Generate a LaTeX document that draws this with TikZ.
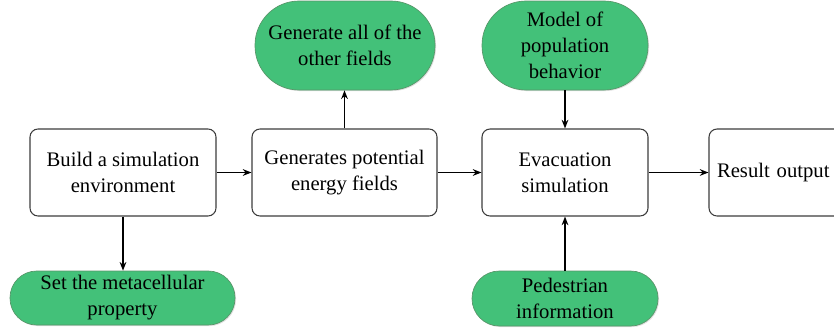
\documentclass[tikz,border=0pt]{standalone}
\usepackage{fontspec}
\setmainfont{Liberation Serif}
\usetikzlibrary{arrows.meta,shadows}
\definecolor{pillgreen}{RGB}{67,193,121}
\definecolor{pillborder}{RGB}{88,150,105}
\definecolor{boxborder}{RGB}{60,60,60}
\tikzset{
  box/.style={draw=boxborder, line width=0.8pt, rounded corners=6pt, fill=white,
    minimum height=65.25pt, align=center, inner sep=0pt,
    font=\fontsize{15.5pt}{19.5pt}\selectfont},
  pill/.style={draw=pillborder, line width=0.5pt, fill=pillgreen, align=center, inner sep=0pt,
    drop shadow={shadow xshift=0.8pt, shadow yshift=-0.8pt, opacity=0.25},
    font=\fontsize{15.5pt}{19.5pt}\selectfont},
  conn/.style={line width=1.1pt, -{Stealth[length=6.5pt,width=5pt]}}
}
\begin{document}
\begin{tikzpicture}[x=0.75pt,y=-0.75pt]
\useasboundingbox (0,0) rectangle (834,332);
\clip (0,0) rectangle (834,332);
\node[box, minimum width=139.5pt] (b1) at (123,172.5) {Build a simulation\\environment};
\node[box, minimum width=138.75pt] (b2) at (344.5,172.5) {Generates potential\\energy fields};
\node[box, minimum width=124.5pt] (b3) at (565,172.5) {Evacuation\\simulation};
\node[box, text width=117pt, align=left, inner xsep=6pt] (b4) at (795,172.5) {Result output};
\node[pill, minimum width=135pt, minimum height=66.75pt, rounded corners=33pt] (g1) at (345,45.5) {Generate all of the\\other fields};
\node[pill, minimum width=124.5pt, minimum height=66.75pt, rounded corners=33pt] (g2) at (565,45.5) {Model of\\population\\behavior};
\node[pill, minimum width=168.75pt, minimum height=40.5pt, rounded corners=20pt] (g3) at (122.5,298) {Set the metacellular\\property};
\node[pill, minimum width=139.5pt, minimum height=41.25pt, rounded corners=20.5pt] (g4) at (565,298.5) {Pedestrian\\information};
\draw[conn] (b1.east) -- (b2.west);
\draw[conn] (b2.east) -- (b3.west);
\draw[conn] (b3.east) -- (b4.west);
\draw[conn] (b1.south) -- (b1.south |- g3.north);
\draw[conn] (b2.north) -- (b2.north |- g1.south);
\draw[conn] (g2.south) -- (b3.north);
\draw[conn] (g4.north) -- (b3.south);
\end{tikzpicture}
\end{document}
